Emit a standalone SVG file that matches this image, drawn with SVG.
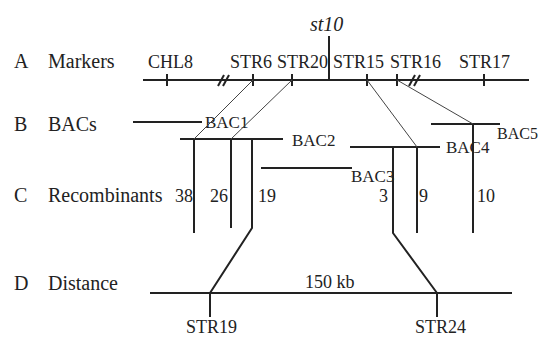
<svg xmlns="http://www.w3.org/2000/svg" width="541" height="338" viewBox="0 0 541 338">
<style>
text{font-family:"Liberation Serif","Times New Roman","DejaVu Serif",serif;fill:#222}
.sec{font-size:20px}
.mk{font-size:18px}
.bac{font-size:17px}
.num{font-size:18px}
.ln{stroke:#222;stroke-width:2;fill:none}
.thin{stroke:#444;stroke-width:1;fill:none}
</style>
<rect width="541" height="338" fill="#fff"/>
<g id="row-labels">
<text class="sec" x="14" y="68">A</text><text class="sec" x="48" y="68">Markers</text>
<text class="sec" x="14" y="131">B</text><text class="sec" x="48" y="131">BACs</text>
<text class="sec" x="14" y="202">C</text><text class="sec" x="48" y="202">Recombinants</text>
<text class="sec" x="14" y="290">D</text><text class="sec" x="48" y="290">Distance</text>
</g>
<g id="markers">
<line class="ln" x1="143" y1="80" x2="529" y2="80"/>
<line class="ln" x1="167" y1="74" x2="167" y2="86"/>
<line class="ln" x1="253" y1="74" x2="253" y2="86"/>
<line class="ln" x1="292" y1="74" x2="292" y2="86"/>
<line class="ln" x1="367" y1="74" x2="367" y2="86"/>
<line class="ln" x1="397" y1="74" x2="397" y2="86"/>
<line class="ln" x1="484" y1="74" x2="484" y2="86"/>
<line class="ln" x1="329" y1="36" x2="329" y2="80"/>
<line class="ln" x1="218" y1="86" x2="224" y2="75"/>
<line class="ln" x1="223" y1="86" x2="229" y2="75"/>
<line class="ln" x1="409" y1="86" x2="415" y2="75"/>
<line class="ln" x1="414" y1="86" x2="420" y2="75"/>
<text class="mk" x="148" y="68">CHL8</text>
<text class="mk" x="230" y="68">STR6</text>
<text class="mk" x="277" y="68">STR20</text>
<text class="mk" x="333" y="68">STR15</text>
<text class="mk" x="390" y="68">STR16</text>
<text class="mk" x="459" y="68">STR17</text>
<text x="310" y="31" font-size="20" font-style="italic">st10</text>
</g>
<g id="bac1"><line class="ln" x1="133" y1="122" x2="202" y2="122"/><text class="bac" x="205" y="128">BAC1</text></g>
<g id="bac2"><line class="ln" x1="180" y1="139" x2="283" y2="139"/><text class="bac" x="292" y="146">BAC2</text></g>
<g id="bac3"><line class="ln" x1="261" y1="168" x2="352" y2="168"/><text class="bac" x="351" y="182">BAC3</text></g>
<g id="bac4"><line class="ln" x1="350" y1="147" x2="440" y2="147"/><text class="bac" x="446" y="153">BAC4</text></g>
<g id="bac5"><line class="ln" x1="431" y1="124" x2="500" y2="124"/><text x="497" y="139" font-size="16">BAC5</text></g>
<g id="recombinants">
<text class="num" x="175" y="202">38</text>
<text class="num" x="210" y="202">26</text>
<text class="num" x="258" y="202">19</text>
<text class="num" x="379" y="202">3</text>
<text class="num" x="419" y="202">9</text>
<text class="num" x="477" y="202">10</text>
</g>
<g id="distance">
<line class="ln" x1="150" y1="293" x2="512" y2="293"/>
<line class="ln" x1="210" y1="293" x2="210" y2="317"/>
<line class="ln" x1="437" y1="293" x2="437" y2="317"/>
<text class="num" x="305" y="288">150 kb</text>
<text class="num" x="186" y="333">STR19</text>
<text class="num" x="415" y="333">STR24</text>
</g>
<g id="connectors">
<line class="thin" x1="253" y1="80" x2="194" y2="139"/>
<line class="thin" x1="292" y1="80" x2="231" y2="139"/>
<line class="thin" x1="367" y1="80" x2="417" y2="147"/>
<line class="thin" x1="397" y1="80" x2="473" y2="124"/>
<line class="ln" x1="194" y1="139" x2="194" y2="233"/>
<line class="ln" x1="231" y1="139" x2="231" y2="228"/>
<polyline class="ln" points="252,139 252,228 210,293"/>
<polyline class="ln" points="393,147 393,233 437,293"/>
<line class="ln" x1="417" y1="147" x2="417" y2="233"/>
<line class="ln" x1="473" y1="124" x2="473" y2="233"/>
</g>
</svg>
